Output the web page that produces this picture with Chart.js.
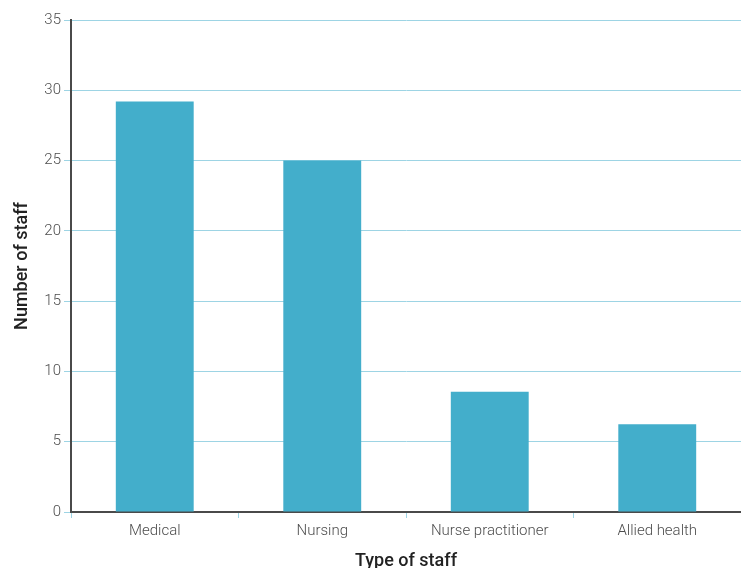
<!DOCTYPE html>
<html>
<head>
<meta charset="utf-8">
<script src="https://cdn.jsdelivr.net/npm/chart.js@4/dist/chart.umd.min.js"></script>
<style>
  html, body { margin: 0; padding: 0; background: #fff; }
  #wrap { width: 741px; height: 568px; }
</style>
</head>
<body>
<div id="wrap"><canvas id="c" width="741" height="568"></canvas></div>
<script>
// Staff counts by type
const categories = ['Medical', 'Nursing', 'Nurse practitioner', 'Allied health'];
const staffCounts = [29.2, 25, 8.55, 6.25];
const yTicks = [0, 5, 10, 15, 20, 25, 30, 35];

const barColor = '#43aecb';
const gridColor = '#9dd4e4';
const axisColor = '#4a4a4a';
const textColor = '#4d4d4d';
const fontFamily = 'Roboto, "Open Sans", "Liberation Sans", sans-serif';

new Chart(document.getElementById('c'), {
  type: 'bar',
  data: {
    labels: categories,
    datasets: [{
      data: staffCounts,
      backgroundColor: barColor,
      borderWidth: 0,
      categoryPercentage: 1,
      barPercentage: 0.465
    }]
  },
  options: {
    responsive: false,
    animation: false,
    layout: { padding: { top: 20, right: 0, left: 0, bottom: 0 } },
    plugins: { legend: { display: false }, tooltip: { enabled: false } },
    scales: {
      x: {
        offset: true,
        grid: {
          offset: true,
          drawOnChartArea: false,
          drawTicks: true,
          tickLength: 6,
          color: gridColor,
          lineWidth: 1
        },
        border: { display: true, color: axisColor, width: 2 },
        ticks: {
          color: textColor,
          font: { family: fontFamily, size: 15, weight: '300' },
          padding: 4,
          maxRotation: 0
        },
        title: {
          display: true,
          text: 'Type of staff',
          color: '#222',
          font: { family: fontFamily, size: 18, weight: '500' },
          padding: { top: 10, bottom: -4 }
        },
        afterFit: (axis) => { axis.height = 56; }
      },
      y: {
        min: 0,
        max: 35,
        afterBuildTicks: (axis) => { axis.ticks = yTicks.map(v => ({ value: v })); },
        grid: {
          color: gridColor,
          lineWidth: 1,
          drawTicks: true,
          tickLength: 7
        },
        border: { display: true, color: axisColor, width: 2 },
        ticks: {
          color: textColor,
          font: { family: fontFamily, size: 15, weight: '300' },
          padding: 3
        },
        title: {
          display: true,
          text: 'Number of staff',
          color: '#222',
          font: { family: fontFamily, size: 18, weight: '500' },
          padding: { top: 12, bottom: 4 }
        },
        afterFit: (axis) => { axis.width = 71; }
      }
    }
  }
});
</script>
</body>
</html>
